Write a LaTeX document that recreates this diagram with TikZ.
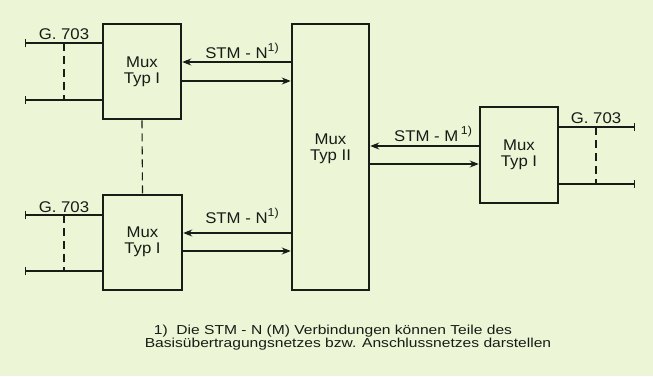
\documentclass[tikz,border=0pt]{standalone}
\usepackage{fontspec}
\setmainfont{Liberation Sans}
\newfontfamily\widesans[FakeStretch=1.2]{Liberation Sans}
\newfontfamily\midsans[FakeStretch=1.08]{Liberation Sans}
\usetikzlibrary{arrows.meta}
\definecolor{bg}{RGB}{236,245,214}
\definecolor{ink}{RGB}{25,27,22}
\newcommand{\fnmark}{\raisebox{0.42em}{\fontsize{11.5}{12}\selectfont 1)}}
\begin{document}
\begin{tikzpicture}[x=1pt,y=-1pt,
  muxbox/.style={draw=ink,line width=2.5pt,inner sep=0pt},
  conn/.style={draw=ink,line width=1.1pt},
  arr/.style={conn,-{Stealth[length=9pt,width=7pt,inset=3pt]}},
  tickline/.style={conn,{Bar[width=8pt,line width=1.1pt]}-},
  dashv/.style={draw=ink,line width=1.1pt,dash pattern=on 8pt off 5pt},
  lbl/.style={text=ink,font=\midsans\fontsize{15.5}{16}\selectfont,inner sep=0pt},
  boxtxt/.style={text=ink,font=\midsans\fontsize{15.5}{16}\selectfont,align=center,inner sep=0pt},
  foot/.style={text=ink,font=\widesans\fontsize{13}{13}\selectfont,align=center,inner sep=0pt}
]
\fill[bg] (0,0) rectangle (653,376);
\useasboundingbox (0,0) rectangle (653,376);

% boxes
\node[muxbox,minimum width=78pt,minimum height=95pt] (A) at (142,71.5) {};
\node[boxtxt] (Atxt) at (142,72) {Mux\\Typ I};
\node[muxbox,minimum width=79pt,minimum height=95pt] (B) at (142.5,242.5) {};
\node[boxtxt] (Btxt) at (142.5,242) {Mux\\Typ I};
\node[muxbox,minimum width=77pt,minimum height=266pt] (C) at (330.5,157) {};
\node[boxtxt] (Ctxt) at (330.5,149) {Mux\\Typ II};
\node[muxbox,minimum width=78pt,minimum height=96pt] (D) at (519,155) {};
\node[boxtxt] (Dtxt) at (519,155) {Mux\\Typ I};

% G.703 terminals, left top
\coordinate (a1) at (25,43);
\coordinate (a2) at (25,100);
\draw[tickline] (a1) -- (a1 -| A.west);
\draw[tickline] (a2) -- (a2 -| A.west);
\coordinate (ad1) at (64,43);
\coordinate (ad2) at (64,100);
\draw[dashv] (ad1) -- (ad2);
\node[lbl,anchor=base] (ga) at (64,39) {G. 703};

% left bottom
\coordinate (b1) at (25,215);
\coordinate (b2) at (25,271);
\draw[tickline] (b1) -- (b1 -| B.west);
\draw[tickline] (b2) -- (b2 -| B.west);
\coordinate (bd1) at (64,215);
\coordinate (bd2) at (64,271);
\draw[dashv] (bd1) -- (bd2);
\node[lbl,anchor=base] (gb) at (64,212) {G. 703};

% right
\coordinate (d1) at (635,127);
\coordinate (d2) at (635,184);
\draw[tickline] (d1) -- (d1 -| D.east);
\draw[tickline] (d2) -- (d2 -| D.east);
\coordinate (dd1) at (596,127);
\coordinate (dd2) at (596,184);
\draw[dashv] (dd1) -- (dd2);
\node[lbl,anchor=base] (gd) at (596,123) {G. 703};

% dashed between left boxes
\draw[dashv] (A.south) -- (B.north);

% STM arrows
\coordinate (ca1) at (0,62);
\coordinate (ca2) at (0,81);
\draw[arr] (ca1 -| C.west) -- (ca1 -| A.east);
\draw[arr] (ca2 -| A.east) -- (ca2 -| C.west);
\node[lbl,anchor=base] (sa) at (242,58) {STM - N\fnmark};

\coordinate (cb1) at (0,233);
\coordinate (cb2) at (0,251);
\draw[arr] (cb1 -| C.west) -- (cb1 -| B.east);
\draw[arr] (cb2 -| B.east) -- (cb2 -| C.west);
\node[lbl,anchor=base] (sb) at (242,223) {STM - N\fnmark};

\coordinate (cd1) at (0,146);
\coordinate (cd2) at (0,164);
\draw[arr] (cd1 -| D.west) -- (cd1 -| C.east);
\draw[arr] (cd2 -| C.east) -- (cd2 -| D.west);
\node[lbl,anchor=base] (sd) at (433,141) {STM - M\,\fnmark};

% footnote
\node[foot,anchor=base] (f1) at (333,334) {1)\ \ Die STM - N (M) Verbindungen können Teile des};
\node[foot,anchor=base] (f2) at (348,347) {Basisübertragungsnetzes bzw. Anschlussnetzes darstellen};
\end{tikzpicture}
\end{document}
